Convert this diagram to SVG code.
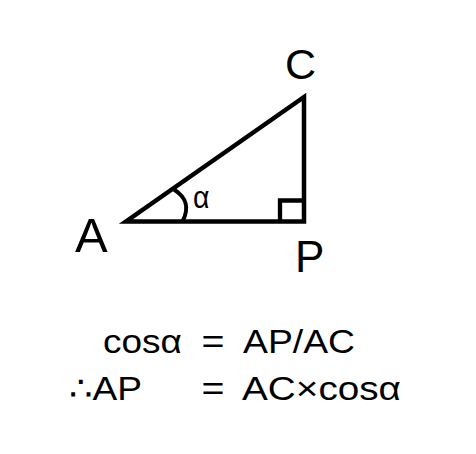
<svg xmlns="http://www.w3.org/2000/svg" width="476" height="454" viewBox="0 0 476 454">
<style>
.ln{fill:none;stroke:#000;stroke-width:4.5;stroke-linejoin:miter;stroke-miterlimit:10}
.t{font-family:"Liberation Sans","DejaVu Sans",sans-serif;fill:#000}
</style>
<rect width="476" height="454" fill="#fff"/>
<g id="triangle">
<path class="ln" d="M304,97 L304,221.5 L126,221.5 Z"/>
<path class="ln" d="M280,221.5 V200.5 H304" style="stroke-width:4.3"/>
<path class="ln" d="M174,189.5 C184,196 191,205 182.5,221.5" style="stroke-width:4"/>
</g>
<g id="labels">
<text class="t" x="75" y="251.7" font-size="49">A</text>
<text class="t" x="285" y="79.3" font-size="43">C</text>
<text class="t" x="295" y="271.7" font-size="44">P</text>
<text class="t" x="193" y="207.5" font-size="32" textLength="16.5" lengthAdjust="spacingAndGlyphs">α</text>
</g>
<g id="formulas" font-size="34">
<text class="t" x="103" y="352.5" textLength="79" lengthAdjust="spacingAndGlyphs">cosα</text>
<text class="t" x="201.5" y="352.5" textLength="23" lengthAdjust="spacingAndGlyphs">=</text>
<text class="t" x="243" y="352.5" textLength="112" lengthAdjust="spacingAndGlyphs">AP/AC</text>
<text class="t" x="69" y="400" textLength="73" lengthAdjust="spacingAndGlyphs">∴AP</text>
<text class="t" x="201.5" y="400" textLength="23" lengthAdjust="spacingAndGlyphs">=</text>
<text class="t" x="242" y="400" textLength="159" lengthAdjust="spacingAndGlyphs">AC×cosα</text>
</g>
</svg>
